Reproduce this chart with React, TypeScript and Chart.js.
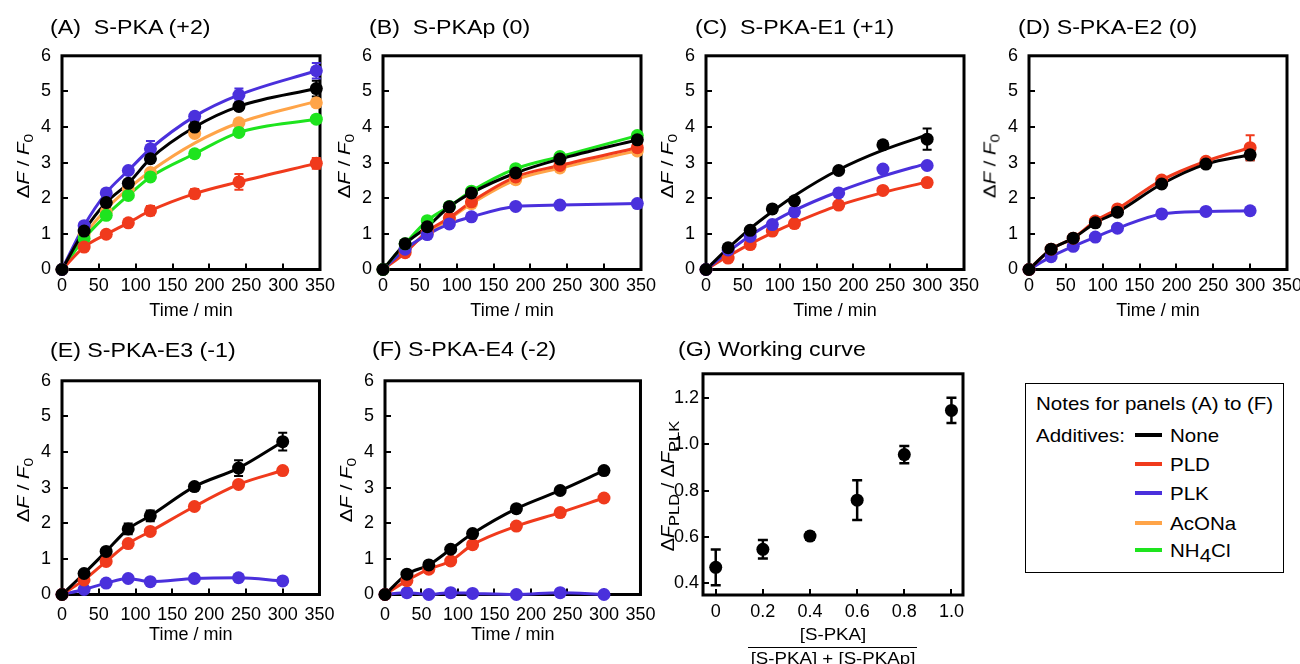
import React, { useEffect, useRef } from "react";
import { Chart, registerables } from "chart.js";

Chart.register(...registerables);

// ---------------- DATA ----------------
const timesAB = [0, 30, 60, 90, 120, 180, 240, 345];
const timesCF = [0, 30, 60, 90, 120, 180, 240, 300];
const timeTicks = [0, 50, 100, 150, 200, 250, 300, 350];
const timeTickLabels = ["0", "50", "100", "150", "200", "250", "300", "350"];
const dfTicks = [0, 1, 2, 3, 4, 5, 6];
const dfTickLabels = ["0", "1", "2", "3", "4", "5", "6"];

// (A) S-PKA (+2)
const A_none = [0, 1.08, 1.88, 2.42, 3.11, 4.0, 4.58, 5.08];
const A_none_err = [0, 0, 0, 0.08, 0.1, 0.15, 0.1, 0.22];
const A_pld = [0, 0.63, 0.99, 1.31, 1.65, 2.13, 2.46, 2.98];
const A_pld_err = [0, 0, 0, 0, 0.13, 0.13, 0.22, 0.15];
const A_plk = [0, 1.23, 2.15, 2.78, 3.39, 4.3, 4.9, 5.58];
const A_plk_err = [0, 0, 0, 0, 0.22, 0.1, 0.18, 0.22];
const A_acona = [0, 0.98, 1.62, 2.25, 2.72, 3.82, 4.12, 4.68];
const A_acona_fit = [0, 0.95, 1.7, 2.27, 2.76, 3.55, 4.12, 4.72];
const A_acona_err = [0, 0, 0, 0, 0, 0.1, 0, 0.1];
const A_nh4cl = [0, 0.87, 1.52, 2.08, 2.6, 3.25, 3.85, 4.22];
const A_nh4cl_err = [0, 0, 0, 0, 0, 0.1, 0, 0.1];

// (B) S-PKAp (0)
const B_none = [0, 0.72, 1.2, 1.76, 2.15, 2.71, 3.1, 3.64];
const B_none_err = [0, 0, 0, 0, 0.12, 0.18, 0.1, 0.15];
const B_pld = [0, 0.47, 1.07, 1.45, 1.9, 2.6, 2.92, 3.42];
const B_plk = [0, 0.57, 0.98, 1.28, 1.48, 1.77, 1.81, 1.85];
const B_acona = [0, 0.52, 1.02, 1.42, 1.85, 2.52, 2.85, 3.33];
const B_nh4cl = [0, 0.72, 1.37, 1.77, 2.2, 2.83, 3.17, 3.76];
const B_nh4cl_err = [0, 0, 0, 0, 0, 0.1, 0, 0.1];

// (C) S-PKA-E1 (+1)
const C_none = [0, 0.61, 1.1, 1.7, 1.93, 2.78, 3.5, 3.66];
const C_none_fit = [0, 0.6, 1.15, 1.63, 2.07, 2.8, 3.35, 3.78];
const C_none_err = [0, 0, 0, 0.1, 0.1, 0, 0.1, 0.3];
const C_pld = [0, 0.32, 0.7, 1.08, 1.29, 1.81, 2.22, 2.44];
const C_pld_fit = [0, 0.37, 0.72, 1.03, 1.31, 1.8, 2.16, 2.46];
const C_pld_err = [0, 0, 0, 0, 0, 0, 0, 0.1];
const C_plk = [0, 0.55, 0.93, 1.26, 1.62, 2.15, 2.82, 2.92];
const C_plk_fit = [0, 0.5, 0.95, 1.33, 1.66, 2.19, 2.62, 2.98];

// (D) S-PKA-E2 (0)
const D_none = [0, 0.57, 0.88, 1.31, 1.61, 2.4, 2.96, 3.22];
const D_none_err = [0, 0, 0, 0, 0.1, 0, 0, 0.15];
const D_pld = [0, 0.57, 0.88, 1.36, 1.7, 2.51, 3.04, 3.42];
const D_pld_err = [0, 0, 0, 0, 0, 0, 0, 0.35];
const D_plk = [0, 0.36, 0.65, 0.91, 1.16, 1.56, 1.63, 1.65];

// (E) S-PKA-E3 (-1)
const E_none = [0, 0.59, 1.21, 1.84, 2.21, 3.03, 3.55, 4.29];
const E_none_err = [0, 0, 0, 0.15, 0.15, 0, 0.22, 0.25];
const E_pld = [0, 0.41, 0.93, 1.43, 1.77, 2.47, 3.09, 3.48];
const E_pld_err = [0, 0, 0, 0, 0, 0, 0, 0.1];
const E_plk = [0, 0.14, 0.32, 0.45, 0.36, 0.45, 0.47, 0.38];

// (F) S-PKA-E4 (-2)
const F_none = [0, 0.57, 0.83, 1.27, 1.71, 2.41, 2.92, 3.48];
const F_pld = [0, 0.39, 0.71, 0.94, 1.4, 1.92, 2.3, 2.71];
const F_plk = [0, 0.05, 0.0, 0.05, 0.03, 0.0, 0.05, 0.0];

// (G) Working curve
const G_fraction = [0, 0.2, 0.4, 0.6, 0.8, 1.0];
const G_ratio = [0.469, 0.547, 0.604, 0.759, 0.956, 1.147];
const G_ratio_err = [0.077, 0.04, 0.015, 0.086, 0.037, 0.055];
const G_xTicks = [0, 0.2, 0.4, 0.6, 0.8, 1.0];
const G_xTickLabels = ["0", "0.2", "0.4", "0.6", "0.8", "1.0"];
const G_yTicks = [0.4, 0.6, 0.8, 1.0, 1.2];
const G_yTickLabels = ["0.4", "0.6", "0.8", "1.0", "1.2"];

const legendLabels = ["None", "PLD", "PLK", "AcONa", "NH4Cl"];

// ---------------- STYLE ----------------
const FONT = "'Liberation Sans', Arial, Helvetica, sans-serif";
const COLORS: Record<string, string> = {
  none: "#000000",
  pld: "#f03a1c",
  plk: "#4a30dc",
  acona: "#ffa448",
  nh4cl: "#1ee41e",
};
const legendKeys = ["none", "pld", "plk", "acona", "nh4cl"];

type Series = { key: string; y: number[]; err?: number[]; fit?: number[] };

type Panel = {
  title: string;
  L: number; T: number; W: number; H: number;
  x: number[];
  xMin: number; xMax: number; yMin: number; yMax: number;
  xTicks: number[]; xLabels: string[]; yTicks: number[]; yLabels: string[];
  xPad: number; xH: number; yPad: number;
  xTitle: string | null;
  titleX: number; titleY: number;
  series: Series[];
  ylabel: "df" | "ratio";
  radius: number;
};

const rowTop = 48, rowH = 221.3;
const row2Top = 372.5, row2H = 221;

const panels: Panel[] = [
  {
    title: "(A)  S-PKA (+2)", L: 62.3, T: rowTop, W: 257.7, H: rowH, x: timesAB,
    xMin: 0, xMax: 350, yMin: 0, yMax: 6, xTicks: timeTicks, xLabels: timeTickLabels, yTicks: dfTicks, yLabels: dfTickLabels,
    xPad: 5.5, xH: 52.5, yPad: 11, xTitle: "Time / min", titleX: 50, titleY: 27, ylabel: "df", radius: 6.5,
    series: [
      { key: "none", y: A_none, err: A_none_err },
      { key: "plk", y: A_plk, err: A_plk_err },
      { key: "pld", y: A_pld, err: A_pld_err },
      { key: "nh4cl", y: A_nh4cl, err: A_nh4cl_err },
      { key: "acona", y: A_acona, err: A_acona_err, fit: A_acona_fit },
    ],
  },
  {
    title: "(B)  S-PKAp (0)", L: 383.3, T: rowTop, W: 258.4, H: rowH, x: timesAB,
    xMin: 0, xMax: 350, yMin: 0, yMax: 6, xTicks: timeTicks, xLabels: timeTickLabels, yTicks: dfTicks, yLabels: dfTickLabels,
    xPad: 5.5, xH: 52.5, yPad: 11, xTitle: "Time / min", titleX: 369, titleY: 27, ylabel: "df", radius: 6.5,
    series: [
      { key: "none", y: B_none, err: B_none_err },
      { key: "nh4cl", y: B_nh4cl, err: B_nh4cl_err },
      { key: "plk", y: B_plk },
      { key: "pld", y: B_pld },
      { key: "acona", y: B_acona },
    ],
  },
  {
    title: "(C)  S-PKA-E1 (+1)", L: 706.3, T: rowTop, W: 258, H: rowH, x: timesCF,
    xMin: 0, xMax: 350, yMin: 0, yMax: 6, xTicks: timeTicks, xLabels: timeTickLabels, yTicks: dfTicks, yLabels: dfTickLabels,
    xPad: 5.5, xH: 52.5, yPad: 11, xTitle: "Time / min", titleX: 695, titleY: 27, ylabel: "df", radius: 6.5,
    series: [
      { key: "none", y: C_none, err: C_none_err, fit: C_none_fit },
      { key: "plk", y: C_plk, fit: C_plk_fit },
      { key: "pld", y: C_pld, err: C_pld_err, fit: C_pld_fit },
    ],
  },
  {
    title: "(D) S-PKA-E2 (0)", L: 1029, T: rowTop, W: 257.7, H: rowH, x: timesCF,
    xMin: 0, xMax: 350, yMin: 0, yMax: 6, xTicks: timeTicks, xLabels: timeTickLabels, yTicks: dfTicks, yLabels: dfTickLabels,
    xPad: 5.5, xH: 52.5, yPad: 11, xTitle: "Time / min", titleX: 1018, titleY: 27, ylabel: "df", radius: 6.5,
    series: [
      { key: "none", y: D_none, err: D_none_err },
      { key: "pld", y: D_pld, err: D_pld_err },
      { key: "plk", y: D_plk },
    ],
  },
  {
    title: "(E) S-PKA-E3 (-1)", L: 61.7, T: row2Top, W: 260, H: row2H, x: timesCF,
    xMin: 0, xMax: 350, yMin: 0, yMax: 6, xTicks: timeTicks, xLabels: timeTickLabels, yTicks: dfTicks, yLabels: dfTickLabels,
    xPad: 9.5, xH: 51.5, yPad: 11, xTitle: "Time / min", titleX: 50, titleY: 350, ylabel: "df", radius: 6.5,
    series: [
      { key: "none", y: E_none, err: E_none_err },
      { key: "pld", y: E_pld, err: E_pld_err },
      { key: "plk", y: E_plk },
    ],
  },
  {
    title: "(F) S-PKA-E4 (-2)", L: 385, T: row2Top, W: 257.7, H: row2H, x: timesCF,
    xMin: 0, xMax: 350, yMin: 0, yMax: 6, xTicks: timeTicks, xLabels: timeTickLabels, yTicks: dfTicks, yLabels: dfTickLabels,
    xPad: 9.5, xH: 51.5, yPad: 11, xTitle: "Time / min", titleX: 372, titleY: 349, ylabel: "df", radius: 6.5,
    series: [
      { key: "none", y: F_none },
      { key: "pld", y: F_pld },
      { key: "plk", y: F_plk },
    ],
  },
  {
    title: "(G) Working curve", L: 703.3, T: 373.3, W: 260, H: 221.7, x: G_fraction,
    xMin: -0.054, xMax: 1.049, yMin: 0.3496, yMax: 1.305, xTicks: G_xTicks, xLabels: G_xTickLabels, yTicks: G_yTicks, yLabels: G_yTickLabels,
    xPad: 6, xH: 40, yPad: 4, xTitle: null, titleX: 678, titleY: 349, ylabel: "ratio", radius: 6.5,
    series: [{ key: "none", y: G_ratio, err: G_ratio_err }],
  },
];

// ---------------- PLUGIN ----------------
const framePlugin = {
  id: "frame",
  beforeDatasetsDraw(chart: any, _args: any, opts: any) {
    const { ctx, chartArea: a, scales } = chart;
    ctx.save();
    ctx.strokeStyle = "#000";
    ctx.lineWidth = 3;
    ctx.strokeRect(a.left, a.top, a.right - a.left, a.bottom - a.top);
    ctx.lineWidth = 2;
    ctx.beginPath();
    for (const v of opts.xTicks || []) {
      const px = Math.round(scales.x.getPixelForValue(v));
      ctx.moveTo(px, a.bottom);
      ctx.lineTo(px, a.bottom - 6);
    }
    for (const v of opts.yTicks || []) {
      const py = Math.round(scales.y.getPixelForValue(v));
      ctx.moveTo(a.left, py);
      ctx.lineTo(a.left + 6, py);
    }
    ctx.stroke();
    // error bars
    chart.data.datasets.forEach((ds: any) => {
      if (!ds.errors) return;
      ctx.strokeStyle = ds.borderColor;
      ctx.lineWidth = ds.errWidth || 2;
      const cap = ds.capHalf || 4;
      ds.data.forEach((p: any, i: number) => {
        const e = ds.errors[i];
        if (!e) return;
        const px = scales.x.getPixelForValue(p.x);
        const y1 = scales.y.getPixelForValue(p.y + e);
        const y2 = scales.y.getPixelForValue(p.y - e);
        ctx.beginPath();
        ctx.moveTo(px, y1);
        ctx.lineTo(px, y2);
        ctx.moveTo(px - cap, y1);
        ctx.lineTo(px + cap, y1);
        ctx.moveTo(px - cap, y2);
        ctx.lineTo(px + cap, y2);
        ctx.stroke();
      });
    });
    ctx.restore();
  },
};

const PAD_T = 14;
const PAD_R = 22;
const Y_W = 60;

function buildConfig(p: Panel): any {
  const pointSets: any[] = [];
  const lineSets: any[] = [];
  const isG = p.ylabel === "ratio";
  p.series.forEach((s) => {
    const color = COLORS[s.key];
    const pts = p.x.map((x, i) => ({ x, y: s.y[i] }));
    pointSets.push({
      data: pts,
      showLine: false,
      pointRadius: p.radius,
      pointHoverRadius: p.radius,
      pointBackgroundColor: color,
      pointBorderWidth: 0,
      borderColor: color,
      backgroundColor: color,
      errors: s.err,
      errWidth: isG ? 2.5 : 2,
      capHalf: isG ? 5 : 4.5,
      clip: false,
    });
    if (!isG) {
      const lineY = s.fit || s.y;
      lineSets.push({
        data: p.x.map((x, i) => ({ x, y: lineY[i] })),
        showLine: true,
        pointRadius: 0,
        pointHoverRadius: 0,
        borderColor: color,
        backgroundColor: color,
        borderWidth: 3,
        cubicInterpolationMode: "monotone",
        tension: 0.4,
        fill: false,
        clip: false,
      });
    }
  });
  const tickFont = { family: FONT, size: 18 };
  return {
    type: "scatter",
    data: { datasets: [...pointSets, ...lineSets] },
    plugins: [framePlugin],
    options: {
      animation: false,
      responsive: false,
      devicePixelRatio: 1,
      events: [],
      layout: { padding: { left: 0, top: PAD_T, right: PAD_R, bottom: 0 } },
      plugins: {
        legend: { display: false },
        tooltip: { enabled: false },
        frame: { xTicks: p.xTicks, yTicks: p.yTicks },
      },
      scales: {
        x: {
          type: "linear",
          min: p.xMin,
          max: p.xMax,
          grid: { display: false, drawTicks: false },
          border: { display: false },
          afterBuildTicks: (s: any) => {
            s.ticks = p.xTicks.map((v) => ({ value: v }));
          },
          ticks: {
            font: tickFont,
            color: "#000",
            padding: p.xPad,
            autoSkip: false,
            maxRotation: 0,
            minRotation: 0,
            callback: (_v: any, i: number) => p.xLabels[i],
          },
          title: {
            display: !!p.xTitle,
            text: p.xTitle || "",
            font: { family: FONT, size: 18, lineHeight: 1.2 },
            color: "#000",
            padding: { top: 0, bottom: 0 },
          },
          afterFit: (s: any) => {
            s.height = p.xH;
          },
        },
        y: {
          type: "linear",
          min: p.yMin,
          max: p.yMax,
          grid: { display: false, drawTicks: false },
          border: { display: false },
          afterBuildTicks: (s: any) => {
            s.ticks = p.yTicks.map((v) => ({ value: v }));
          },
          ticks: {
            font: tickFont,
            color: "#000",
            padding: p.yPad,
            autoSkip: false,
            callback: (_v: any, i: number) => p.yLabels[i],
          },
          afterFit: (s: any) => {
            s.width = Y_W;
          },
        },
      },
    },
  };
}

function PanelChart({ p }: { p: Panel }) {
  const ref = useRef<HTMLCanvasElement>(null);
  const w = Math.round(Y_W + p.W + PAD_R);
  const h = Math.round(PAD_T + p.H + p.xH);
  useEffect(() => {
    const chart = new Chart(ref.current as HTMLCanvasElement, buildConfig(p));
    return () => chart.destroy();
  }, []);
  return (
    <canvas
      ref={ref}
      width={w}
      height={h}
      style={{ position: "absolute", left: p.L - Y_W, top: p.T - PAD_T, width: w, height: h }}
    />
  );
}

const textBase: React.CSSProperties = {
  position: "absolute",
  fontFamily: FONT,
  color: "#000",
  whiteSpace: "pre",
  lineHeight: 1,
};

function YLabelDF({ cx, cy }: { cx: number; cy: number }) {
  return (
    <div
      style={{
        ...textBase,
        left: cx,
        top: cy,
        fontSize: 17,
        transform: "translate(-50%,-50%) rotate(-90deg) scaleX(1.2)",
      }}
    >
      Δ<i>F</i> / <i>F</i>
      <span style={{ fontSize: 13, position: "relative", top: 4 }}>0</span>
    </div>
  );
}

function YLabelRatio({ cx, cy }: { cx: number; cy: number }) {
  return (
    <div
      style={{
        ...textBase,
        left: cx,
        top: cy,
        fontSize: 18,
        transform: "translate(-50%,-50%) rotate(-90deg) scaleX(1.1)",
      }}
    >
      Δ<i>F</i>
      <span style={{ fontSize: 15, position: "relative", top: 5 }}>PLD</span> / Δ<i>F</i>
      <span style={{ fontSize: 15, position: "relative", top: 5 }}>PLK</span>
    </div>
  );
}

export default function App() {
  return (
    <div
      style={{
        position: "fixed",
        left: 0,
        top: 0,
        width: 1300,
        height: 664,
        background: "#fff",
        overflow: "hidden",
        fontFamily: FONT,
      }}
    >
      {panels.map((p, i) => (
        <PanelChart key={i} p={p} />
      ))}
      {panels.map((p, i) => (
        <div
          key={"t" + i}
          style={{
            ...textBase,
            left: p.titleX,
            top: p.titleY,
            fontSize: 20,
            transform: "translateY(-50%) scaleX(1.16)",
            transformOrigin: "left center",
          }}
        >
          {p.title}
        </div>
      ))}
      {panels.map((p, i) =>
        p.ylabel === "df" ? (
          <YLabelDF key={"y" + i} cx={p.L - 39} cy={p.T + p.H / 2 + 7} />
        ) : (
          <YLabelRatio key={"y" + i} cx={668} cy={486} />
        )
      )}
      {/* G x-axis label as fraction */}
      <div
        style={{
          ...textBase,
          left: 833,
          top: 634,
          fontSize: 17,
          transform: "translate(-50%,-50%) scaleX(1.1)",
        }}
      >
        [S-PKA]
      </div>
      <div style={{ position: "absolute", left: 748, top: 646.5, width: 169, height: 1.5, background: "#000" }} />
      <div
        style={{
          ...textBase,
          left: 833,
          top: 658,
          fontSize: 17,
          transform: "translate(-50%,-50%) scaleX(1.1)",
        }}
      >
        [S-PKA] + [S-PKAp]
      </div>
      {/* Legend box */}
      <div
        style={{
          position: "absolute",
          left: 1025,
          top: 383,
          width: 259,
          height: 190,
          border: "1.5px solid #000",
          boxSizing: "border-box",
        }}
      />
      <div
        style={{ ...textBase, left: 1036, top: 403, fontSize: 19, transform: "translateY(-50%) scaleX(1.08)", transformOrigin: "left center" }}
      >
        Notes for panels (A) to (F)
      </div>
      <div
        style={{ ...textBase, left: 1036, top: 435, fontSize: 19, transform: "translateY(-50%) scaleX(1.08)", transformOrigin: "left center" }}
      >
        Additives:
      </div>
      {legendKeys.map((k, i) => {
        const cy = [435, 464.3, 493.3, 523.3, 550][i];
        return (
          <React.Fragment key={k}>
            <div
              style={{ position: "absolute", left: 1135, top: cy - 2, width: 27, height: 4, background: COLORS[k] }}
            />
            <div
              style={{ ...textBase, left: 1170, top: cy, fontSize: 19, transform: "translateY(-50%) scaleX(1.08)", transformOrigin: "left center" }}
            >
              {k === "nh4cl" ? (
                <>
                  NH<span style={{ position: "relative", top: 5 }}>4</span>Cl
                </>
              ) : (
                legendLabels[i]
              )}
            </div>
          </React.Fragment>
        );
      })}
    </div>
  );
}
